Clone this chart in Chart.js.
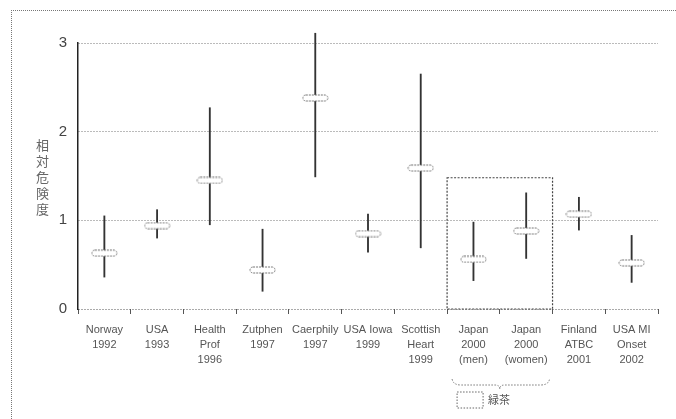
<!DOCTYPE html>
<html>
<head>
<meta charset="utf-8">
<script src="https://cdn.jsdelivr.net/npm/chart.js@4/dist/chart.umd.min.js"></script>
<style>
  html, body { margin: 0; padding: 0; background: #fff; }
  #wrap { position: relative; width: 676px; height: 419px; }
  #frame { position: absolute; left: 11px; top: 10px; right: 0; bottom: 0;
           border-top: 1px dotted #777; border-left: 1px dotted #777; }
  #ylabel { position: absolute; left: 33px; top: 139px; writing-mode: vertical-rl;
            font: 13px "Noto Sans CJK JP", sans-serif; color: #666; letter-spacing: 3px; }
</style>
</head>
<body>
<div id="wrap">
  <div id="frame"></div>
  <canvas id="chart" width="676" height="419"></canvas>
  <div id="ylabel">相対危険度</div>
</div>
<script>
// ===== DATA =====
const categories = [
  ['Norway', '1992'], ['USA', '1993'], ['Health', 'Prof', '1996'], ['Zutphen', '1997'],
  ['Caerphily', '1997'], ['USA Iowa', '1999'], ['Scottish', 'Heart', '1999'],
  ['Japan', '2000', '(men)'], ['Japan', '2000', '(women)'], ['Finland', 'ATBC', '2001'],
  ['USA MI', 'Onset', '2002']
];
const estimates = [0.63, 0.94, 1.45, 0.44, 2.38, 0.85, 1.59, 0.56, 0.88, 1.07, 0.52];
const lower     = [0.36, 0.80, 0.95, 0.20, 1.49, 0.64, 0.69, 0.32, 0.57, 0.89, 0.30];
const upper     = [1.05, 1.12, 2.27, 0.90, 3.11, 1.07, 2.65, 0.98, 1.31, 1.26, 0.83];
const yTicks    = [0, 1, 2, 3];
const highlight = [7, 8];       // Japan (men), Japan (women)
const highlightTop = 1.48;
const legendText = '緑茶';

// marker: small dashed capsule
const mk = document.createElement('canvas');
mk.width = 27; mk.height = 8;
(function () {
  const c = mk.getContext('2d');
  c.fillStyle = '#fff';
  c.strokeStyle = '#777';
  c.lineWidth = 1;
  c.setLineDash([2, 1]);
  c.beginPath();
  c.roundRect(1, 1, 25, 6, 3);
  c.fill();
  c.stroke();
})();

const extras = {
  id: 'extras',
  afterDatasetsDraw(chart) {
    const { ctx, scales: { x, y } } = chart;
    const w = (x.right - x.left) / categories.length;
    const l = x.getPixelForValue(highlight[0]) - w / 2;
    const r = x.getPixelForValue(highlight[highlight.length - 1]) + w / 2;
    const t = y.getPixelForValue(highlightTop);
    const b = y.getPixelForValue(0);
    ctx.save();
    ctx.strokeStyle = '#444';
    ctx.lineWidth = 1.2;
    ctx.setLineDash([2, 1.5]);
    ctx.strokeRect(l, t, r - l, b - t);

    // brace under labels
    ctx.strokeStyle = '#777';
    ctx.lineWidth = 1;
    ctx.setLineDash([1.5, 1.5]);
    const by = 382, mid = (l + r) / 2;
    ctx.beginPath();
    ctx.moveTo(l + 5, by - 3);
    ctx.quadraticCurveTo(l + 6, by + 3, l + 14, by + 3);
    ctx.lineTo(mid - 5, by + 3);
    ctx.quadraticCurveTo(mid, by + 3, mid, by + 7);
    ctx.quadraticCurveTo(mid, by + 3, mid + 5, by + 3);
    ctx.lineTo(r - 12, by + 3);
    ctx.quadraticCurveTo(r - 4, by + 3, r - 3, by - 3);
    ctx.stroke();

    // legend box
    ctx.strokeStyle = '#666';
    ctx.strokeRect(l + 10, 392, 26, 16);
    ctx.setLineDash([]);
    ctx.fillStyle = '#555';
    ctx.font = '11px "Noto Sans CJK JP", sans-serif';
    ctx.textBaseline = 'middle';
    ctx.fillText(legendText, l + 41, 400);
    ctx.restore();
  }
};

new Chart(document.getElementById('chart'), {
  type: 'bar',
  data: {
    labels: categories,
    datasets: [{
      type: 'bar',
      data: lower.map((lo, i) => [lo, upper[i]]),
      backgroundColor: '#333',
      barThickness: 1.2,
      clip: false,
      order: 2
    }, {
      type: 'line',
      data: estimates,
      showLine: false,
      pointStyle: mk,
      clip: false,
      order: 1
    }]
  },
  options: {
    responsive: false,
    animation: false,
    layout: { padding: { left: 0, right: 18, top: 43, bottom: 0 } },
    plugins: { legend: { display: false }, tooltip: { enabled: false } },
    scales: {
      x: {
        afterFit: s => { s.height = 110; },
        grid: { offset: true, drawOnChartArea: false, tickLength: 5, color: '#555' },
        border: { display: false },
        ticks: {
          maxRotation: 0, autoSkip: false, padding: 9,
          color: '#555', font: { family: 'Liberation Sans', size: 11, lineHeight: 1.35 }
        }
      },
      y: {
        min: 0, max: 3,
        afterFit: s => { s.width = 78; },
        afterBuildTicks: s => { s.ticks = yTicks.map(v => ({ value: v })); },
        grid: { color: ctx => ctx.tick && ctx.tick.value === 0 ? '#555' : '#777', drawTicks: false },
        border: { color: '#222', width: 1.5, dash: [1, 2] },
        ticks: {
          padding: 11, color: '#444',
          font: { family: 'Liberation Sans', size: 15 }
        }
      }
    }
  },
  plugins: [extras]
});
</script>
</body>
</html>
